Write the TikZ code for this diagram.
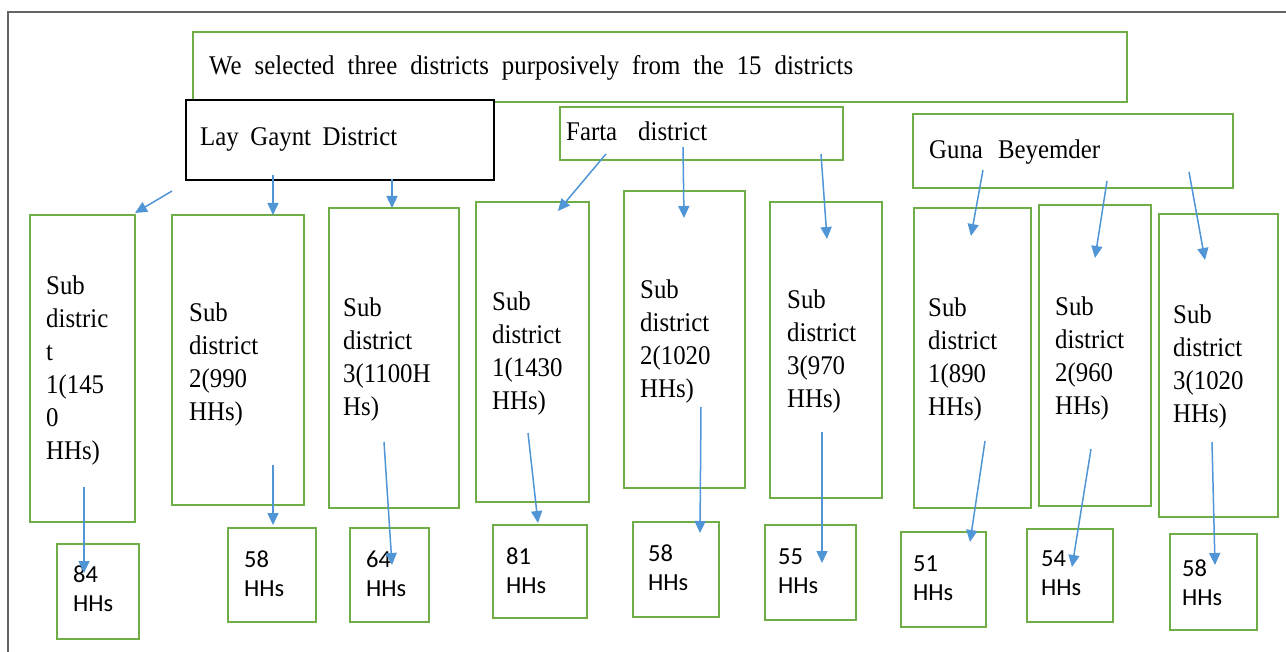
\documentclass[tikz,border=0pt]{standalone}
\usepackage{fontspec}
\setmainfont{Liberation Serif}[FakeStretch=0.92]
\newfontfamily\calib{Carlito}
\usetikzlibrary{arrows.meta}
\definecolor{grn}{RGB}{112,173,71}
\definecolor{arw}{RGB}{80,150,215}
\definecolor{frm}{RGB}{100,100,100}
\tikzset{
  gbox/.style={draw=grn, line width=1.8pt, anchor=north west, inner sep=0pt, fill=white},
  kbox/.style={draw=black, line width=1.6pt, anchor=north west, inner sep=0pt, fill=white},
  subtxt/.style={anchor=north west, inner sep=0pt, align=left, font=\fontsize{27}{33}\selectfont},
  hhtxt/.style={anchor=north west, inner sep=0pt, align=left, font=\calib\fontsize{24.5}{29}\selectfont},
  lbl/.style={anchor=base west, inner sep=0pt, font=\fontsize{27}{30}\selectfont},
  arr/.style={draw=arw, line width=1.5pt, -{Triangle[length=12pt,width=11pt]}},
}
\begin{document}
\begin{tikzpicture}[x=1pt,y=-1pt]
\useasboundingbox (0,0) rectangle (1286,652);
\fill[white] (0,0) rectangle (1286,652);
\draw[frm, line width=2pt] (8,652) -- (8,12) -- (1290,12);
% top level boxes
\node[gbox, minimum width=934pt, minimum height=70pt] (top) at (192,31) {};
\node[lbl] (toptxt) at (209,75) {\makebox[644pt][s]{We selected three districts purposively from the 15 districts}};
\node[kbox, minimum width=308pt, minimum height=80pt] (lg) at (185,99) {};
\node[lbl] (lgtxt) at (200,146) {\makebox[197pt][s]{Lay Gaynt District}};
\node[gbox, minimum width=283pt, minimum height=53pt] (fa) at (559,106) {};
\node[lbl] (fatxt) at (566,141) {\makebox[141pt][s]{Farta district}};
\node[gbox, minimum width=320pt, minimum height=74pt] (gu) at (912,113) {};
\node[lbl] (gutxt) at (929,159) {\makebox[171pt][s]{Guna Beyemder}};
% sub district boxes
\node[gbox, minimum width=105pt, minimum height=307pt] (sd1) at (29,214) {};
\node[gbox, minimum width=132pt, minimum height=290pt] (sd2) at (171,214) {};
\node[gbox, minimum width=130pt, minimum height=300pt] (sd3) at (328,207) {};
\node[gbox, minimum width=113pt, minimum height=300pt] (sd4) at (475,201) {};
\node[gbox, minimum width=121pt, minimum height=297pt] (sd5) at (623,190) {};
\node[gbox, minimum width=112pt, minimum height=296pt] (sd6) at (769,201) {};
\node[gbox, minimum width=117pt, minimum height=300pt] (sd7) at (913,207) {};
\node[gbox, minimum width=112pt, minimum height=301pt] (sd8) at (1038,204) {};
\node[gbox, minimum width=119pt, minimum height=303pt] (sd9) at (1158,213) {};
\node[subtxt] (t1) at (46,275.5) {Sub\\distric\\t\\1(145\\0\\HHs)};
\node[subtxt] (t2) at (189,302.5) {Sub\\district\\2(990\\HHs)};
\node[subtxt] (t3) at (343,297.5) {Sub\\district\\3(1100H\\Hs)};
\node[subtxt] (t4) at (492,291.5) {Sub\\district\\1(1430\\HHs)};
\node[subtxt] (t5) at (640,279.5) {Sub\\district\\2(1020\\HHs)};
\node[subtxt] (t6) at (787,289.5) {Sub\\district\\3(970\\HHs)};
\node[subtxt] (t7) at (928,297.5) {Sub\\district\\1(890\\HHs)};
\node[subtxt] (t8) at (1055,296.5) {Sub\\district\\2(960\\HHs)};
\node[subtxt] (t9) at (1173,304.5) {Sub\\district\\3(1020\\HHs)};
% household boxes
\node[gbox, minimum width=82pt, minimum height=95pt] (b1) at (56,543) {};
\node[gbox, minimum width=88pt, minimum height=94pt] (b2) at (227,527) {};
\node[gbox, minimum width=79pt, minimum height=94pt] (b3) at (349,527) {};
\node[gbox, minimum width=94pt, minimum height=93pt] (b4) at (492,524) {};
\node[gbox, minimum width=86pt, minimum height=95pt] (b5) at (632,521) {};
\node[gbox, minimum width=91pt, minimum height=95pt] (b6) at (764,524) {};
\node[gbox, minimum width=85pt, minimum height=95pt] (b7) at (900,531) {};
\node[gbox, minimum width=86pt, minimum height=93pt] (b8) at (1026,528) {};
\node[gbox, minimum width=87pt, minimum height=96pt] (b9) at (1169,533) {};
\node[hhtxt] (h1) at (73,566) {84\\HHs};
\node[hhtxt] (h2) at (244,551) {58\\HHs};
\node[hhtxt] (h3) at (366,551) {64\\HHs};
\node[hhtxt] (h4) at (506,548) {81\\HHs};
\node[hhtxt] (h5) at (648,545) {58\\HHs};
\node[hhtxt] (h6) at (778,549) {55\\HHs};
\node[hhtxt] (h7) at (913,556) {51\\HHs};
\node[hhtxt] (h8) at (1041,551) {54\\HHs};
\node[hhtxt] (h9) at (1182,560) {58\\HHs};
% connector end points
\coordinate (a1s) at (172,191); \coordinate (a1e) at (135,213);
\coordinate (a2s) at (273,175); \coordinate (a2e) at (273,215);
\coordinate (a3s) at (392,179); \coordinate (a3e) at (392,208);
\coordinate (a4s) at (606,154); \coordinate (a4e) at (558,211);
\coordinate (a5s) at (683,147); \coordinate (a5e) at (684,218);
\coordinate (a6s) at (821,154); \coordinate (a6e) at (827,239);
\coordinate (a7s) at (983,170); \coordinate (a7e) at (971,236);
\coordinate (a8s) at (1107,181); \coordinate (a8e) at (1095,258);
\coordinate (a9s) at (1189,172); \coordinate (a9e) at (1205,260);
\coordinate (c1s) at (84,487); \coordinate (c1e) at (84,573);
\coordinate (c2s) at (273,465); \coordinate (c2e) at (273,525);
\coordinate (c3s) at (384,442); \coordinate (c3e) at (392,565);
\coordinate (c4s) at (528,433); \coordinate (c4e) at (538,523);
\coordinate (c5s) at (701,407); \coordinate (c5e) at (700,533);
\coordinate (c6s) at (822,432); \coordinate (c6e) at (822,563);
\coordinate (c7s) at (985,441); \coordinate (c7e) at (970,542);
\coordinate (c8s) at (1091,449); \coordinate (c8e) at (1072,567);
\coordinate (c9s) at (1212,442); \coordinate (c9e) at (1215,565);
\foreach \n in {a1,a2,a3,a4,a5,a6,a7,a8,a9,c1,c2,c3,c4,c5,c6,c7,c8,c9}
  \draw[arr] (\n s) -- (\n e);
\end{tikzpicture}
\end{document}
